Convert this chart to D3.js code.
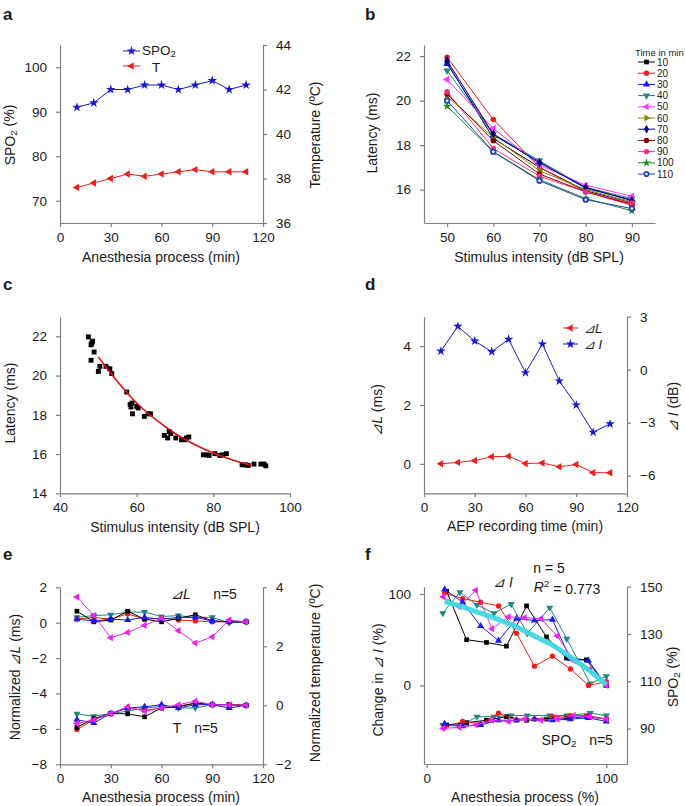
<!DOCTYPE html>
<html><head><meta charset="utf-8">
<script src="https://cdn.jsdelivr.net/npm/d3@7"></script>
<style>body{margin:0;background:#fff}svg{font-family:Arial,"Liberation Sans",Helvetica,sans-serif}</style>
</head><body><svg id="c" width="685" height="806"></svg>
<script>
// ---------- DATA ----------
// panel a
const aTime = [10,20,30,40,50,60,70,80,90,100,110];
const aSpo2 = [91,92,95,95,96,96,95,96,97,95,96];
const aTemp = [37.6,37.8,38.0,38.2,38.1,38.2,38.3,38.4,38.3,38.3,38.3];
const aXTicks = [0,30,60,90,120], aYTicks = [70,80,90,100], aY2Ticks = [36,38,40,42,44];
// panel b
const bIntensity = [50,60,70,80,90];
const bTimes = [10,20,30,40,50,60,70,80,90,100,110];
const bLatency = [
  [21.7,18.3,17.0,15.95,15.4],
  [21.95,19.15,17.0,15.9,15.3],
  [21.65,18.45,17.25,16.05,15.55],
  [21.35,18.5,17.3,16.1,15.6],
  [20.95,18.75,17.1,16.2,15.7],
  [20.2,18.35,16.85,16.0,15.45],
  [21.8,18.5,17.2,16.1,15.5],
  [20.3,18.2,16.7,15.9,15.35],
  [20.4,17.85,16.6,15.9,15.4],
  [19.75,17.7,16.45,15.6,15.05],
  [20.0,17.7,16.4,15.55,15.15]
];
const bXTicks = [50,60,70,80,90], bYTicks = [16,18,20,22];
// panel c
const cIntensity = [47.4,48.1,48.5,48.3,48.9,48.1,50.0,50.4,52.0,53.0,53.5,
  57.4,58.3,58.5,58.9,58.8,60.0,60.4,62.0,63.0,63.6,
  67.2,68.1,68.5,68.9,70.2,71.7,72.6,73.0,73.6,
  77.4,78.3,78.9,80.4,81.7,82.4,83.4,
  87.5,88.5,89.1,90.6,92.4,93.2,93.7];
const cLatency = [21.97,21.57,21.75,21.65,21.2,20.78,20.21,20.47,20.47,20.35,20.1,
  19.16,18.52,18.4,18.05,18.6,18.43,18.35,17.92,18.05,18.05,
  16.95,16.82,17.15,17.04,16.82,16.73,16.73,16.82,16.87,
  15.96,15.96,15.93,16.02,15.93,15.96,16.02,
  15.45,15.45,15.42,15.49,15.49,15.49,15.4];
const cFitX = [50,55,60,65,70,75,80,85,90];
const cFitY = [20.95,19.7,18.6,17.75,17.05,16.5,16.05,15.7,15.42];
const cXTicks = [40,60,80,100], cYTicks = [14,16,18,20,22];
// panel d
const dTime = [10,20,30,40,50,60,70,80,90,100,110];
const dDeltaL = [0.0,0.05,0.11,0.24,0.26,0.01,0.03,-0.1,-0.02,-0.3,-0.3];
const dDeltaI = [1.05,2.45,1.62,1.02,1.72,-0.17,1.45,-0.64,-2.0,-3.54,-3.07];
const dXTicks = [0,30,60,90,120], dYTicks = [0,2,4], dY2Ticks = [-6,-3,0,3];
// panel e (5 subjects)
const eTime = [10,20,30,40,50,60,70,80,90,100,110];
const eDeltaL = [
  [0.65,0.05,0.15,0.65,0.2,0.05,0.25,0.45,0.1,0.05,0.05],
  [0.2,0.3,0.2,0.5,0.2,0.25,0.15,0.1,0.05,0.05,0.05],
  [0.2,0.1,0.2,0.15,0.3,0.2,0.3,0.3,0.1,0.05,0.05],
  [0.3,0.4,0.45,0.6,0.6,0.35,0.4,0.3,0.3,0.0,0.05],
  [1.45,0.4,-0.85,-0.55,-0.15,0.25,-0.45,-1.15,-0.8,0.15,0.05]
];
const eTempNorm = [
  [-0.75,-0.45,-0.28,-0.29,-0.39,-0.09,-0.05,0.08,0.02,0.02,0.0],
  [-0.82,-0.49,-0.28,-0.09,-0.17,-0.09,-0.02,0.06,0.02,0.02,0.0],
  [-0.49,-0.6,-0.28,-0.09,-0.05,0.02,-0.09,0.02,0.02,-0.09,0.0],
  [-0.29,-0.37,-0.28,-0.2,-0.09,-0.04,-0.09,-0.09,0.02,0.02,0.0],
  [-0.62,-0.49,-0.28,-0.05,-0.2,-0.09,0.02,0.14,0.02,0.02,0.0]
];
const eXTicks = [0,30,60,90,120], eYTicks = [-8,-6,-4,-2,0,2], eY2Ticks = [-2,0,2,4];
// panel f (5 subjects, x in % of anesthesia process)
const fX = [
  [11.1,22.2,33.3,44.4,55.6,66.7,77.8,88.9,100],
  [10,20,30,40,50,60,70,80,90,100],
  [10,20,30,40,50,60,70,80,90,100],
  [9,18.5,28,37.5,47,56,68.5,78,91,100],
  [9.1,18.2,27.3,36.4,45.5,54.5,63.6,72.7,81.8,90.9,100]
];
const fDeltaI = [
  [103,50,47,43,87,53,30,28,0],
  [101,95,91,87,57,21,32,18,0,4],
  [105,91,65,49,73,71,72,29,27,0],
  [79,102,88,79,89,57,85,51,2,10],
  [97,86,104,62,75,74,73,54,27,18,0]
];
const fSpo2 = [
  [91.5,92.5,93.5,95,93.5,94,94.5,95,94],
  [90.5,93,92,96.5,93.5,94,95,95.5,95.5,94],
  [92,91,91.5,93.5,93.5,94,93.5,94,94.5,93],
  [91.5,91,95,95,95.5,95.5,95.5,95.5,96.5,95.5],
  [90,90.5,91.5,93.5,93,94,93.5,94,95.5,95,94]
];
const fFitX = [10,20,30,40,50,60,70,80,90,100];
const fFitY = [92,86,79,72,64,54,44,31,17,1];
const fXTicks = [0,100], fYTicks = [0,100], fY2Ticks = [90,110,130,150];

// ---------- STYLE ----------
const subjColors = ['#000000','#ee1c1c','#1a1ae6','#1f8585','#ee22ee'];
const subjMarkers = ['square','circle','triUp','triDown','triLeft'];
const bColors = ['#000000','#ee1c1c','#1a1ae6','#1f8585','#ff33ff','#8b8b00','#000080','#800000','#f0307f','#228b22','#2040c0'];
const bMarkers = ['square','circle','triUp','triDown','triLeft','triRight','diamond','circle','circle','star','ocircle'];
const AXC = '#808080', TXT = '#1a1a1a';
const svg = d3.select('#c');

function symPath(type, area){
  const m = {square:d3.symbolSquare, circle:d3.symbolCircle, ocircle:d3.symbolCircle, triUp:d3.symbolTriangle,
    triDown:d3.symbolTriangle, triLeft:d3.symbolTriangle, triRight:d3.symbolTriangle, star:d3.symbolStar, diamond:d3.symbolDiamond};
  return d3.symbol(m[type], area)();
}
const rot = {triDown:180, triLeft:-90, triRight:90};
function marker(g, type, x, y, color, area){
  const p = g.append('path').attr('d', symPath(type, area))
    .attr('transform', `translate(${x},${y}) rotate(${rot[type]||0})`)
    .attr('fill', type==='ocircle' ? '#fff' : color);
  if (type==='ocircle') p.attr('stroke', color).attr('stroke-width', 1.8);
  return p;
}
function series(g, xs, ys, xs_, ys_, color, mk, area, lw){
  const pts = xs.map((v,i)=>[xs_(v), ys_(ys[i])]);
  g.append('path').attr('d', d3.line()(pts)).attr('fill','none').attr('stroke',color).attr('stroke-width',lw||1);
  pts.forEach(p=>marker(g, mk, p[0], p[1], color, area));
}
function styleAxis(g){
  g.attr('font-family', null).attr('font-size', null);
  g.select('.domain').attr('stroke', AXC).attr('stroke-width',1.2);
  g.selectAll('.tick line').attr('stroke', AXC).attr('stroke-width',1.2);
  g.selectAll('.tick text').attr('fill', TXT).style('font-size','13.5px');
}
function panel(o){
  const x = d3.scaleLinear().domain(o.xd).range([o.x0,o.x1]);
  const y = d3.scaleLinear().domain(o.yd).range([o.yB,o.yT]);
  const y2 = o.y2d ? d3.scaleLinear().domain(o.y2d).range([o.yB,o.yT]) : null;
  styleAxis(svg.append('g').attr('transform',`translate(0,${o.yB})`)
    .call(d3.axisBottom(x).tickValues(o.xt).tickFormat(d3.format('d')).tickSize(4).tickSizeOuter(0).tickPadding(5)));
  styleAxis(svg.append('g').attr('transform',`translate(${o.x0},0)`)
    .call(d3.axisLeft(y).tickValues(o.yt).tickFormat(d3.format('d')).tickSize(4).tickSizeOuter(0).tickPadding(9)));
  if (y2) styleAxis(svg.append('g').attr('transform',`translate(${o.x1},0)`)
    .call(d3.axisRight(y2).tickValues(o.y2t).tickFormat(d3.format('d')).tickSize(4).tickSizeOuter(0).tickPadding(9)));
  return {x, y, y2, g: svg.append('g')};
}
function txt(x, y, s, opt){
  opt = opt||{};
  const t = svg.append('text').attr('x',x).attr('y',y).attr('fill',TXT)
    .style('font-size',(opt.size||14)+'px').attr('text-anchor',opt.anchor||'middle').attr('dominant-baseline','central');
  if (s) t.text(s);
  if (opt.rot) t.attr('transform',`rotate(${opt.rot},${x},${y})`);
  if (opt.bold) t.style('font-weight','bold');
  if (opt.italic) t.style('font-style','italic');
  return t;
}
function rich(t, parts){
  parts.forEach(p=>{
    const s = t.append('tspan').text(p.t);
    if (p.sub) s.style('font-size','0.7em').attr('dy','0.35em');
    if (p.sup) s.style('font-size','0.7em').attr('dy','-0.45em');
    if (p.after) s.attr('dy', p.after);
    if (p.it) s.style('font-style','italic');
  });
}
// panel letters
[['a',3,14],['b',365,14],['c',3,284],['d',365,284],['e',3,554],['f',365,554]].forEach(l=>
  txt(l[1],l[2],l[0],{size:17,bold:true,anchor:'start'}));

// ---------- PANEL A ----------
{
  const p = panel({x0:60,x1:263,yT:45,yB:223,xd:[0,120],yd:[65,105],y2d:[36,44],xt:aXTicks,yt:aYTicks,y2t:aY2Ticks});
  series(p.g, aTime, aSpo2, p.x, p.y, '#1a1acc', 'star', 28);
  series(p.g, aTime, aTemp, p.x, p.y2, '#ee1c1c', 'triLeft', 24);
  p.g.append('line').attr('x1',123).attr('x2',140).attr('y1',51).attr('y2',51).attr('stroke','#1a1acc');
  marker(p.g,'star',131.5,51,'#1a1acc',28);
  p.g.append('line').attr('x1',123).attr('x2',140).attr('y1',66).attr('y2',66).attr('stroke','#ee1c1c');
  marker(p.g,'triLeft',131.5,66,'#ee1c1c',24);
  rich(txt(142,50,'',{anchor:'start',size:13.5}),[{t:'SPO'},{t:'2',sub:true}]);
  txt(152,67,'T',{anchor:'start',size:13.5});
  rich(txt(10,135,'',{rot:-90}),[{t:'SPO'},{t:'2',sub:true},{t:' (%)',after:'-0.35em'}]);
  txt(315,135,'Temperature (ºC)',{rot:-90});
  txt(161,257,'Anesthesia process (min)');
}
// ---------- PANEL B ----------
{
  const p = panel({x0:424,x1:655,yT:45,yB:223,xd:[45,95],yd:[14.5,22.5],xt:bXTicks,yt:bYTicks});
  bLatency.forEach((s,i)=>series(p.g, bIntensity, s, p.x, p.y, bColors[i], bMarkers[i], bMarkers[i]==='ocircle'?16:24));
  txt(635,52,'Time in min',{anchor:'start',size:9.5});
  bTimes.forEach((t,i)=>{
    const yy = 62 + i*11.2;
    p.g.append('line').attr('x1',638).attr('x2',655).attr('y1',yy).attr('y2',yy).attr('stroke',bColors[i]);
    marker(p.g,bMarkers[i],646.5,yy,bColors[i],bMarkers[i]==='ocircle'?14:22);
    txt(657,yy,String(t),{anchor:'start',size:10});
  });
  txt(372,133,'Latency (ms)',{rot:-90});
  txt(539,257,'Stimulus intensity (dB SPL)');
}
// ---------- PANEL C ----------
{
  const p = panel({x0:60,x1:290,yT:316.7,yB:493.3,xd:[40,100],yd:[14,23],xt:cXTicks,yt:cYTicks});
  cIntensity.forEach((v,i)=>marker(p.g,'square',p.x(v),p.y(cLatency[i]),'#000',24));
  p.g.append('path').attr('d', d3.line().curve(d3.curveMonotoneX)(cFitX.map((v,i)=>[p.x(v),p.y(cFitY[i])])))
    .attr('fill','none').attr('stroke','#dd1111').attr('stroke-width',1.6);
  txt(10,403,'Latency (ms)',{rot:-90});
  txt(175,527,'Stimulus intensity (dB SPL)');
}
// ---------- PANEL D ----------
{
  const p = panel({x0:424,x1:627,yT:316.7,yB:493.3,xd:[0,120],yd:[-1,5],y2d:[-7,3],xt:dXTicks,yt:dYTicks,y2t:dY2Ticks});
  series(p.g, dTime, dDeltaI, p.x, p.y2, '#1a1acc', 'star', 28);
  series(p.g, dTime, dDeltaL, p.x, p.y, '#ee1c1c', 'triLeft', 24);
  p.g.append('line').attr('x1',563).attr('x2',578).attr('y1',328).attr('y2',328).attr('stroke','#ee1c1c');
  marker(p.g,'triLeft',570.5,328,'#ee1c1c',24);
  p.g.append('line').attr('x1',563).attr('x2',578).attr('y1',344).attr('y2',344).attr('stroke','#1a1acc');
  marker(p.g,'star',570.5,344,'#1a1acc',28);
  txt(584,328,'⊿L',{anchor:'start',italic:true,size:13});
  txt(584,344,'⊿ I',{anchor:'start',italic:true,size:13});
  rich(txt(377,410,'',{rot:-90}),[{t:'⊿L',it:true},{t:' (ms)'}]);
  rich(txt(673,407,'',{rot:-90}),[{t:'⊿ I',it:true},{t:' (dB)'}]);
  txt(525,526,'AEP recording time (min)');
}
// ---------- PANEL E ----------
{
  const p = panel({x0:60,x1:263,yT:587.3,yB:764.3,xd:[0,120],yd:[-8,2],y2d:[-2,4],xt:eXTicks,yt:eYTicks,y2t:eY2Ticks});
  const order = [3,1,0,2,4];
  order.forEach(i=>series(p.g, eTime, eDeltaL[i], p.x, p.y, subjColors[i], subjMarkers[i], 22));
  order.forEach(i=>series(p.g, eTime, eTempNorm[i], p.x, p.y2, subjColors[i], subjMarkers[i], 22));
  txt(181,594,'⊿L',{italic:true});
  txt(225,594,'n=5');
  txt(177,728,'T');
  txt(206,728,'n=5');
  rich(txt(15,677,'',{rot:-90}),[{t:'Normalized  '},{t:'⊿L',it:true},{t:' (ms)'}]);
  txt(315,673,'Normalized temperature (ºC)',{rot:-90});
  txt(161,797,'Anesthesia process (min)');
}
// ---------- PANEL F ----------
{
  const p = panel({x0:424,x1:627,yT:586.7,yB:764,xd:[-1.5,111.5],yd:[-86,108],y2d:[75,150],xt:fXTicks,yt:fYTicks,y2t:fY2Ticks});
  const order = [3,0,1,2,4];
  order.forEach(i=>series(p.g, fX[i], fDeltaI[i], p.x, p.y, subjColors[i], subjMarkers[i], 22));
  p.g.append('path').attr('d', d3.line().curve(d3.curveMonotoneX)(fFitX.map((v,i)=>[p.x(v),p.y(fFitY[i])])))
    .attr('fill','none').attr('stroke','#3fd8e0').attr('stroke-width',5).attr('stroke-opacity',0.95);
  order.forEach(i=>series(p.g, fX[i], fSpo2[i], p.x, p.y2, subjColors[i], subjMarkers[i], 22));
  txt(549,568,'n = 5');
  txt(503,582,'⊿ I',{italic:true});
  rich(txt(567,587,'',{}),[{t:'R',it:true},{t:'2',sup:true},{t:' = 0.773',after:'0.45em'}]);
  rich(txt(559,740,'',{}),[{t:'SPO'},{t:'2',sub:true}]);
  txt(601,740,'n=5');
  rich(txt(378,680,'',{rot:-90}),[{t:'Change in  '},{t:'⊿ I',it:true},{t:' (%)'}]);
  rich(txt(673,677,'',{rot:-90}),[{t:'SPO'},{t:'2',sub:true},{t:' (%)',after:'-0.35em'}]);
  txt(525,797,'Anesthesia process (%)');
}
</script></body></html>
